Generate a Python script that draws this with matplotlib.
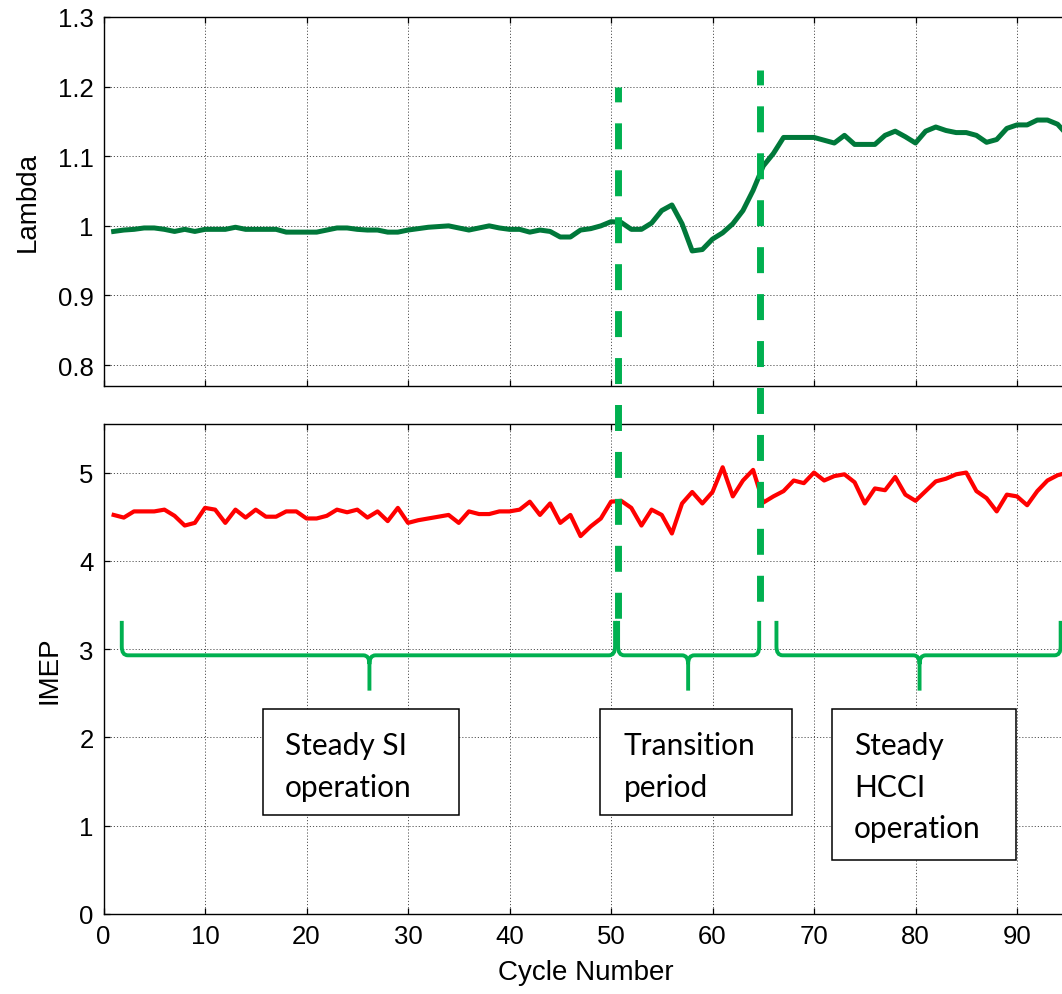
import matplotlib
matplotlib.use("Agg")
import matplotlib.pyplot as plt
from matplotlib.path import Path
from matplotlib.patches import PathPatch, Rectangle
from matplotlib.lines import Line2D
from matplotlib.ticker import FuncFormatter
import matplotlib.transforms as mtransforms
import numpy as np

# ---- data -------------------------------------------------------------
cycles = list(range(1, 96))

lambda_vals = [
    0.992, 0.994, 0.995, 0.997, 0.997, 0.995, 0.992, 0.995, 0.992, 0.995,
    0.995, 0.995, 0.998, 0.995, 0.995, 0.995, 0.995, 0.991, 0.991, 0.991,
    0.991, 0.994, 0.997, 0.997, 0.995, 0.994, 0.994, 0.991, 0.991, 0.994,
    0.996, 0.998, 0.999, 1.000, 0.997, 0.994, 0.997, 1.000, 0.997, 0.995,
    0.995, 0.991, 0.994, 0.992, 0.984, 0.984, 0.994, 0.996, 1.000, 1.006,
    1.005, 0.995, 0.995, 1.004, 1.022, 1.030, 1.003, 0.964, 0.966, 0.981,
    0.990, 1.003, 1.022, 1.051, 1.086, 1.104, 1.127, 1.127, 1.127, 1.127,
    1.123, 1.119, 1.130, 1.117, 1.117, 1.117, 1.130, 1.136, 1.128, 1.119,
    1.136, 1.142, 1.137, 1.134, 1.134, 1.130, 1.120, 1.124, 1.140, 1.145,
    1.145, 1.152, 1.152, 1.146, 1.130,
]

imep_vals = [
    4.52, 4.49, 4.56, 4.56, 4.56, 4.58, 4.51, 4.40, 4.43, 4.60,
    4.58, 4.43, 4.58, 4.49, 4.58, 4.50, 4.50, 4.56, 4.56, 4.48,
    4.48, 4.51, 4.58, 4.55, 4.58, 4.49, 4.56, 4.45, 4.60, 4.43,
    4.46, 4.48, 4.50, 4.52, 4.43, 4.56, 4.53, 4.53, 4.56, 4.56,
    4.58, 4.67, 4.52, 4.65, 4.43, 4.52, 4.28, 4.39, 4.48, 4.67,
    4.68, 4.60, 4.40, 4.58, 4.52, 4.31, 4.65, 4.78, 4.65, 4.78,
    5.06, 4.73, 4.91, 5.03, 4.66, 4.73, 4.79, 4.91, 4.88, 5.00,
    4.91, 4.96, 4.98, 4.89, 4.65, 4.82, 4.80, 4.95, 4.75, 4.68,
    4.79, 4.90, 4.93, 4.98, 5.00, 4.79, 4.71, 4.56, 4.75, 4.73,
    4.63, 4.79, 4.91, 4.97, 5.00,
]

x_ticks = [0, 10, 20, 30, 40, 50, 60, 70, 80, 90]
lambda_ticks = [0.8, 0.9, 1.0, 1.1, 1.2, 1.3]
imep_ticks = [0, 1, 2, 3, 4, 5]

# phase boundaries (cycle number) and phase labels
switch_cycles = [50.7, 64.7]
phase_spans = [(1.8, 26.2, 50.4), (50.7, 57.6, 64.6), (66.3, 80.4, 94.3)]
phase_labels = [["Steady SI", "operation"],
                ["Transition", "period"],
                ["Steady", "HCCI", "operation"]]

# ---- figure -----------------------------------------------------------
W, H = 1062, 995
plt.rcParams["font.family"] = ["Liberation Sans", "DejaVu Sans"]
fig = plt.figure(figsize=(W / 100, H / 100), dpi=100)

x0_px = 103.5
px_per_cycle = 10.15
xmax = 95
left = x0_px / W
width = xmax * px_per_cycle / W

ax1 = fig.add_axes([left, 1 - 387 / H, width, (387 - 18) / H])
ax2 = fig.add_axes([left, 1 - 915 / H, width, (915 - 425) / H])

green_dark = "#00783A"
green_bright = "#00B050"

ax1.plot(cycles, lambda_vals, color=green_dark, lw=3.6, solid_joinstyle="round", zorder=3)
ax2.plot(cycles, imep_vals, color="#FF0000", lw=3.0, solid_joinstyle="round", zorder=3)

fmt = FuncFormatter(lambda v, p: "%g" % round(v, 3))
for ax in (ax1, ax2):
    ax.set_xlim(0, xmax)
    ax.set_xticks(x_ticks)
    ax.grid(True, color="#555555", linestyle=(0, (1.2, 2.0)), linewidth=0.7)
    ax.tick_params(direction="in", top=True, right=True, length=4, width=0.9,
                   labelsize=18.5, pad=7)
    for sp in ax.spines.values():
        sp.set_linewidth(1.0)
    ax.yaxis.set_major_formatter(fmt)

ax1.set_ylim(0.77, 1.3)
ax1.set_yticks(lambda_ticks)
ax1.tick_params(labelbottom=False)
ax1.set_ylabel("Lambda", fontsize=20, labelpad=12)

ax2.set_ylim(0, 5.55)
ax2.set_yticks(imep_ticks)
ax2.set_ylabel("IMEP", fontsize=20, labelpad=12)
ax2.set_xlabel("Cycle Number", fontsize=20, labelpad=8)


# ---- curly braces marking each phase ------------------------------------
def brace(ax, xa, xm, xb, y_top=3.32, y_mid=2.93, y_tip=2.53, rx=0.6, ry=0.1):
    verts = [
        (xa, y_top), (xa, y_mid + ry), (xa, y_mid), (xa + rx, y_mid),
        (xm - rx, y_mid), (xm, y_mid), (xm, y_mid - ry), (xm, y_tip),
        (xm, y_mid - ry), (xm, y_mid), (xm + rx, y_mid),
        (xb - rx, y_mid), (xb, y_mid), (xb, y_mid + ry), (xb, y_top),
    ]
    codes = [Path.MOVETO, Path.LINETO, Path.CURVE3, Path.CURVE3,
             Path.LINETO, Path.CURVE3, Path.CURVE3, Path.LINETO,
             Path.MOVETO, Path.CURVE3, Path.CURVE3,
             Path.LINETO, Path.CURVE3, Path.CURVE3, Path.LINETO]
    ax.add_patch(PathPatch(Path(verts, codes), facecolor="none",
                           edgecolor=green_bright, lw=2.8, clip_on=False,
                           zorder=5, capstyle="butt"))


for xa, xm, xb in phase_spans:
    brace(ax2, xa, xm, xb)

# ---- dashed switch lines spanning both panels ---------------------------
trans = mtransforms.blended_transform_factory(ax2.transData, fig.transFigure)
for xc, top_px in zip(switch_cycles, [88, 71]):
    ln = Line2D([xc, xc], [1 - top_px / H, 1 - 622 / H], transform=trans,
                color=green_bright, lw=5, linestyle=(1.6, (3.74, 3.02)),
                solid_capstyle="butt", dash_capstyle="butt", zorder=6)
    fig.add_artist(ln)

# ---- phase text boxes ---------------------------------------------------
boxes = [(15.70, 34.98, 1.121, 2.322), (48.94, 67.82, 1.121, 2.322),
         (71.76, 89.92, 0.615, 2.322)]
text_x = [17.9, 51.23, 73.96]
baselines = [1.812, 1.336, 0.872]
for (xa, xb, ya, yb), tx, lines in zip(boxes, text_x, phase_labels):
    ax2.add_patch(Rectangle((xa, ya), xb - xa, yb - ya, facecolor="white",
                            edgecolor="black", lw=1.1, zorder=7, clip_on=False))
    for line, yb_ in zip(lines, baselines):
        ax2.text(tx, yb_, line, fontsize=21.5, family=["Lato", "DejaVu Sans"],
                 ha="left", va="baseline", zorder=8)

fig.savefig("out.png", dpi=100)
